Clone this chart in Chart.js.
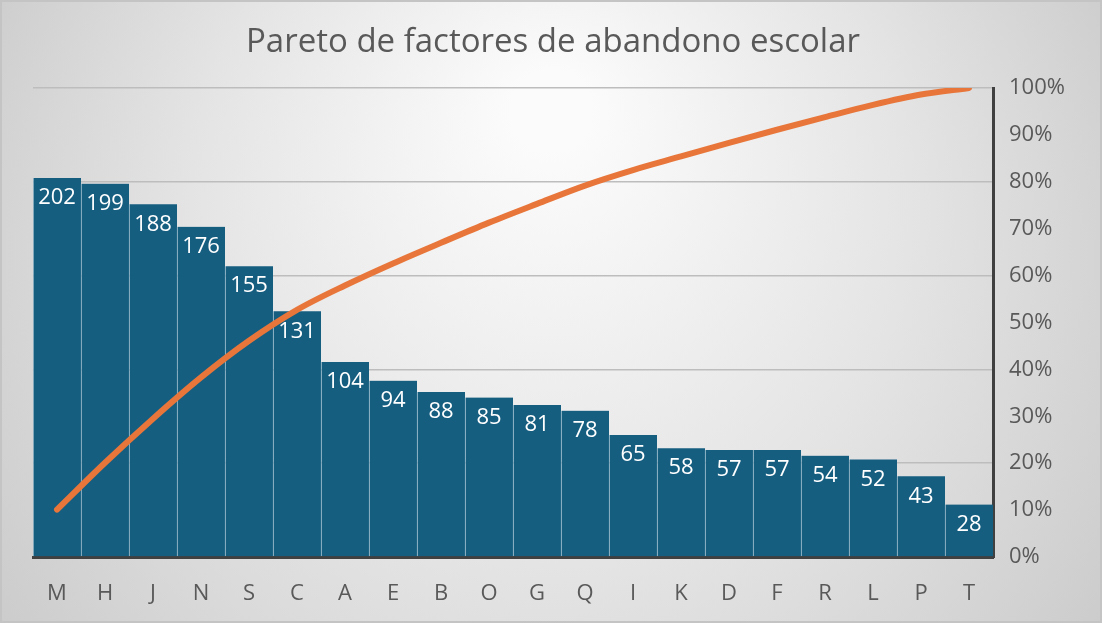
<!DOCTYPE html>
<html>
<head>
<meta charset="utf-8">
<script src="https://cdn.jsdelivr.net/npm/chart.js@4.4.0/dist/chart.umd.min.js"></script>
<style>
  html, body { margin: 0; padding: 0; }
  body { width: 1102px; height: 623px; overflow: hidden; }
  #wrap { position: relative; width: 1102px; height: 623px; }
</style>
</head>
<body>
<div id="wrap"><canvas id="pareto" width="1102" height="623"></canvas></div>
<script>
// Factores (categorías) y frecuencias
const factores = ['M', 'H', 'J', 'N', 'S', 'C', 'A', 'E', 'B', 'O', 'G', 'Q', 'I', 'K', 'D', 'F', 'R', 'L', 'P', 'T'];
const frecuencias = [202, 199, 188, 176, 155, 131, 104, 94, 88, 85, 81, 78, 65, 58, 57, 57, 54, 52, 43, 28];
// Porcentaje acumulado (eje derecho)
const acumulado = [10.1, 20.1, 29.5, 38.3, 46.1, 52.7, 57.9, 62.6, 67.0, 71.3, 75.3, 79.2, 82.5, 85.4, 88.3, 91.1, 93.8, 96.4, 98.6, 100];
const ticksPorcentaje = [0, 10, 20, 30, 40, 50, 60, 70, 80, 90, 100];

const FONT = "'Open Sans', 'Noto Sans', sans-serif";
const GRIS = '#595959';

// Fondo degradado y título
const fondo = {
    id: 'fondo',
    beforeDraw(chart) {
        const { ctx, width, height } = chart;
        ctx.save();
        const g = ctx.createRadialGradient(width / 2, 110, 40, width / 2, 300, 680);
        g.addColorStop(0, '#fbfbfb');
        g.addColorStop(0.5, '#e4e4e4');
        g.addColorStop(1, '#c9c9c9');
        ctx.fillStyle = g;
        ctx.fillRect(0, 0, width, height);
        ctx.strokeStyle = '#c4c4c4';
        ctx.lineWidth = 2;
        ctx.strokeRect(1, 1, width - 2, height - 2);
        ctx.fillStyle = GRIS;
        ctx.font = '33px ' + FONT;
        ctx.textAlign = 'center';
        ctx.textBaseline = 'middle';
        ctx.fillText('Pareto de factores de abandono escolar', width / 2 + 2, 43);
        ctx.restore();
    }
};

// Etiquetas de valores dentro de las barras
const etiquetas = {
    id: 'etiquetas',
    afterDatasetsDraw(chart) {
        const { ctx } = chart;
        const meta = chart.getDatasetMeta(1);
        ctx.save();
        ctx.fillStyle = '#ffffff';
        ctx.font = '22px ' + FONT;
        ctx.textAlign = 'center';
        ctx.textBaseline = 'middle';
        meta.data.forEach((bar, i) => {
            ctx.fillText(frecuencias[i], bar.x, bar.y + 20);
        });
        ctx.restore();
    }
};

new Chart(document.getElementById('pareto'), {
    data: {
        labels: factores,
        datasets: [
            {
                type: 'line',
                label: 'Acumulado',
                data: acumulado,
                yAxisID: 'y1',
                borderColor: '#e8763a',
                borderWidth: 6,
                borderCapStyle: 'round',
                pointRadius: 0,
                cubicInterpolationMode: 'monotone',
                order: 0
            },
            {
                type: 'bar',
                label: 'Frecuencia',
                data: frecuencias,
                yAxisID: 'y',
                backgroundColor: '#165e80',
                borderColor: 'rgba(160, 200, 220, 0.55)',
                borderWidth: { left: 1, right: 0, top: 0, bottom: 0 },
                borderSkipped: false,
                barPercentage: 1,
                categoryPercentage: 1,
                order: 1
            }
        ]
    },
    options: {
        responsive: false,
        animation: false,
        layout: { padding: { top: 88, left: 33, right: 0, bottom: 0 } },
        plugins: {
            legend: { display: false },
            title: { display: false },
            tooltip: { enabled: false }
        },
        scales: {
            x: {
                grid: { display: false, drawTicks: false },
                border: { display: true, color: '#404040', width: 3 },
                ticks: { color: GRIS, font: { family: FONT, size: 22 }, padding: 24 },
                afterFit(scale) { scale.height = 66; }
            },
            y: {
                position: 'left',
                min: 0,
                max: 250,
                ticks: { display: false, stepSize: 50 },
                grid: { color: '#bdbdbd', lineWidth: 1.5, drawTicks: false },
                border: { display: false },
                afterFit(scale) { scale.width = 0; }
            },
            y1: {
                position: 'right',
                min: 0,
                max: 100,
                afterBuildTicks(scale) { scale.ticks = ticksPorcentaje.map(v => ({ value: v })); },
                ticks: {
                    color: GRIS,
                    font: { family: FONT, size: 22 },
                    padding: 16,
                    callback: v => v + '%'
                },
                grid: { display: false, drawTicks: false },
                border: { display: true, color: '#404040', width: 3 },
                afterFit(scale) { scale.width = 109; }
            }
        }
    },
    plugins: [fondo, etiquetas]
});
</script>
</body>
</html>
